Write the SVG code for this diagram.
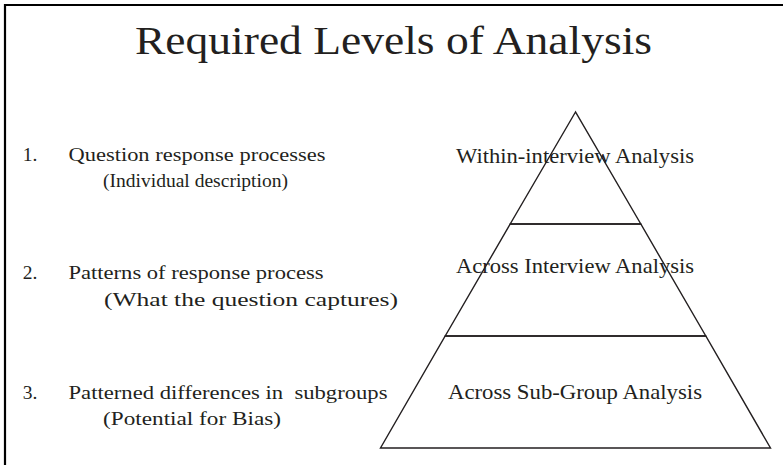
<svg xmlns="http://www.w3.org/2000/svg" width="783" height="465" viewBox="0 0 783 465">
<style>
  text { font-family: "Liberation Serif", "Times New Roman", serif; fill: #231f20; }
  .title { font-size: 40px; text-anchor: middle; }
  .item { font-size: 19.5px; white-space: pre; }
  .lvl { font-size: 22px; text-anchor: middle; }
  .shape { fill: none; stroke: #231f20; stroke-width: 1.4; stroke-linejoin: miter; }
  .frame { fill: none; stroke: #000; stroke-width: 2.2; }
</style>
<rect width="783" height="465" fill="#fff"/>
<path class="frame" d="M5,465 V5 H783"/>
<g id="title">
  <text class="title" x="393.5" y="54" textLength="517" lengthAdjust="spacingAndGlyphs">Required Levels of Analysis</text>
</g>
<g id="item1">
  <text class="item" x="22.7" y="161">1.</text>
  <text class="item" x="68.5" y="161" textLength="257" lengthAdjust="spacingAndGlyphs">Question response processes</text>
  <text class="item" x="103" y="187" textLength="185" lengthAdjust="spacingAndGlyphs">(Individual description)</text>
</g>
<g id="item2">
  <text class="item" x="22.7" y="279">2.</text>
  <text class="item" x="68.5" y="279" textLength="255" lengthAdjust="spacingAndGlyphs">Patterns of response process</text>
  <text class="item" x="104" y="306" textLength="294" lengthAdjust="spacingAndGlyphs">(What the question captures)</text>
</g>
<g id="item3">
  <text class="item" x="22.7" y="399">3.</text>
  <text class="item" x="68.5" y="399" textLength="319" lengthAdjust="spacingAndGlyphs">Patterned differences in  subgroups</text>
  <text class="item" x="103" y="425" textLength="178" lengthAdjust="spacingAndGlyphs">(Potential for Bias)</text>
</g>
<g id="connectors"></g>
<g id="level-within">
  <polygon class="shape" points="575.5,112 510.2,224 640.8,224"/>
  <text class="lvl" x="575" y="163" textLength="238" lengthAdjust="spacingAndGlyphs">Within-interview Analysis</text>
</g>
<g id="level-across-interview">
  <polygon class="shape" points="510.2,224 640.8,224 705.8,336 445.2,336"/>
  <text class="lvl" x="575" y="273" textLength="238" lengthAdjust="spacingAndGlyphs">Across Interview Analysis</text>
</g>
<g id="level-across-subgroup">
  <polygon class="shape" points="445.2,336 705.8,336 770.5,448 380.5,448"/>
  <text class="lvl" x="575" y="399" textLength="254" lengthAdjust="spacingAndGlyphs">Across Sub-Group Analysis</text>
</g>
</svg>
